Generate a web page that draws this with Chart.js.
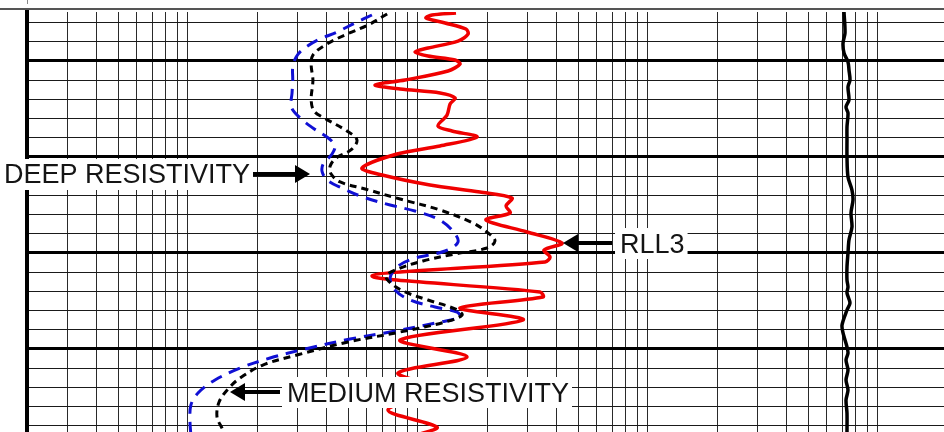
<!DOCTYPE html>
<html>
<head>
<meta charset="utf-8">
<script src="https://cdn.jsdelivr.net/npm/chart.js@4"></script>
<style>
  html, body { margin: 0; padding: 0; background: #fff; }
  #wrap { width: 944px; height: 432px; }
</style>
</head>
<body>
<div id="wrap"><canvas id="logChart"></canvas></div>
<script>
// Resistivity in ohm-m (log track), depth in ft (one grid line = 2 ft)
const gridRes = [
    0.01, 0.015, 0.02, 0.025, 0.03, 0.035, 0.04, 0.045, 0.05,
    0.1, 0.15, 0.2, 0.25, 0.3, 0.35, 0.4, 0.45, 0.5,
    1, 1.5, 2, 2.5, 3, 3.5, 4, 4.5, 5,
    10, 15, 20, 25, 30, 35, 40, 45, 50
];
const gridDepth = [6, 8, 10, 12, 14, 16, 18, 20, 22, 24, 26, 28, 30, 32, 34, 36, 38, 40, 42, 44, 46, 48];

const rll3Depth = [5.00, 5.21, 5.52, 6.04, 6.67, 7.19, 7.92, 8.65, 9.06, 9.48,
    9.90, 10.31, 11.04, 11.98, 12.50, 12.92, 13.33, 13.85, 14.48, 15.63,
    16.77, 17.29, 17.92, 18.85, 19.69, 21.15, 21.88, 22.92, 23.65, 24.27,
    25.10, 25.83, 26.56, 27.81, 28.96, 29.69, 30.42, 30.94, 32.40, 34.06,
    34.58, 35.73, 36.98, 39.06, 40.83, 42.50, 44.27, 46.35, 48.13, 48.86];
const rll3Res = [0.733, 0.577, 0.543, 0.657, 0.810, 0.827, 0.748, 0.554, 0.486, 0.554,
    0.726, 0.763, 0.677, 0.440, 0.326, 0.419, 0.625, 0.726, 0.691, 0.670,
    0.612, 0.704, 0.905, 0.625, 0.406, 0.286, 0.350, 0.565, 0.932, 1.284,
    1.210, 1.259, 0.990, 1.492, 2.119, 1.769, 1.879, 1.787, 0.316, 1.700,
    1.752, 0.763, 1.434, 0.419, 0.819, 0.410, 0.625, 0.371, 0.606, 0.511];

const deepDepth = [5.10, 6.25, 7.29, 8.33, 9.38, 10.42, 11.98, 14.06, 15.21, 15.94,
    17.29, 18.23, 19.27, 20.10, 20.94, 21.77, 22.60, 23.33, 24.38, 25.52,
    26.88, 27.92, 28.75, 29.48, 30.10, 30.83, 31.67, 32.40, 33.23, 34.06,
    34.90, 35.83, 36.46, 37.19, 38.23, 39.27, 40.63, 41.67, 43.02, 44.17,
    45.52, 47.08, 48.23, 49.06];
const deepRes = [0.368, 0.304, 0.241, 0.198, 0.175, 0.172, 0.175, 0.172, 0.177, 0.196,
    0.246, 0.272, 0.256, 0.221, 0.208, 0.210, 0.230, 0.295, 0.419, 0.625,
    0.869, 1.010, 1.083, 1.000, 0.726, 0.527, 0.410, 0.364, 0.386, 0.440,
    0.554, 0.726, 0.779, 0.657, 0.419, 0.249, 0.149, 0.106, 0.0844, 0.0748,
    0.0684, 0.0670, 0.0704, 0.0733];

const medDepth = [5.21, 6.04, 6.98, 7.81, 8.75, 9.58, 10.63, 11.98, 13.33, 14.79,
    15.94, 16.98, 18.02, 18.85, 19.69, 20.73, 21.56, 22.40, 23.23, 24.17,
    25.00, 25.63, 26.46, 27.60, 28.85, 29.79, 30.63, 31.46, 32.60, 33.85,
    34.90, 35.63, 36.15, 36.67, 37.19, 38.23, 38.96, 40.00, 40.94, 41.98,
    43.23, 44.58, 45.83, 47.40, 49.06];
const medRes = [0.316, 0.267, 0.223, 0.184, 0.159, 0.148, 0.143, 0.143, 0.142, 0.141,
    0.154, 0.175, 0.204, 0.218, 0.212, 0.194, 0.192, 0.202, 0.234, 0.289,
    0.379, 0.486, 0.612, 0.704, 0.748, 0.657, 0.472, 0.406, 0.379, 0.398,
    0.463, 0.594, 0.741, 0.763, 0.625, 0.379, 0.254, 0.162, 0.114, 0.0844,
    0.0657, 0.0554, 0.0516, 0.0511, 0.0516];

// black trace on the right of the track
const rightDepth = [4.90, 7.08, 8.13, 9.17, 10.10, 10.94, 11.98, 12.71, 14.06, 14.79,
    15.42, 16.88, 18.23, 20.00, 22.08, 23.44, 24.48, 25.83, 27.29, 28.65,
    30.00, 31.46, 32.81, 33.54, 34.17, 35.21, 35.94, 37.50, 38.33, 39.79,
    40.42, 41.15, 42.19, 43.23, 44.27, 45.31, 46.67, 48.65];
const rightRes = [35.65, 36.01, 35.30, 35.65, 37.10, 37.47, 37.85, 37.10, 37.47, 36.37,
    37.10, 36.73, 36.73, 36.73, 37.10, 38.61, 39.00, 38.23, 38.61, 37.47,
    37.10, 36.73, 36.73, 37.10, 36.73, 37.85, 36.73, 34.95, 35.30, 36.73,
    37.10, 36.37, 37.10, 36.37, 37.10, 36.37, 36.73, 36.73];

// callouts: arrow tip in data space, text placed on `side` of the arrow
const callouts = [
    { text: 'DEEP RESISTIVITY', res: 0.170, depth: 21.77, side: 'left', len: 57, gap: 3 },
    { text: 'RLL3', res: 2.14, depth: 28.96, side: 'right', len: 49, gap: 8 },
    { text: 'MEDIUM RESISTIVITY', res: 0.0763, depth: 44.48, side: 'right', len: 50, gap: 7 }
];

const toPoints = (xs, ys) => xs.map((v, i) => ({ x: v, y: ys[i] }));

const framePlugin = {
    id: 'frame',
    beforeDraw(chart) {
        const { ctx, chartArea } = chart;
        ctx.save();
        ctx.strokeStyle = '#555';
        ctx.lineWidth = 2;
        ctx.beginPath();
        ctx.moveTo(0, chartArea.top - 3);
        ctx.lineTo(chart.width, chartArea.top - 3);
        ctx.stroke();
        ctx.lineWidth = 1;
        ctx.strokeStyle = '#888';
        ctx.beginPath();
        ctx.moveTo(chartArea.left + 0.5, 0);
        ctx.lineTo(chartArea.left + 0.5, 4);
        ctx.stroke();
        ctx.restore();
    }
};

const calloutPlugin = {
    id: 'callouts',
    afterDatasetsDraw(chart) {
        const { ctx } = chart;
        const xs = chart.scales.x;
        const ys = chart.scales.y;
        ctx.save();
        ctx.font = '27px "Liberation Sans", Arial, sans-serif';
        ctx.textBaseline = 'alphabetic';
        callouts.forEach(c => {
            const tipX = xs.getPixelForValue(c.res);
            const tipY = ys.getPixelForValue(c.depth);
            const dir = c.side === 'left' ? -1 : 1;
            const tailX = tipX + dir * c.len;
            const w = ctx.measureText(c.text).width;
            const textX = dir < 0 ? tailX - c.gap - w : tailX + c.gap;

            // white box behind the label
            const boxL = Math.max(0, textX - 5);
            const boxR = dir < 0 ? tailX : textX + w + 3;
            ctx.fillStyle = '#fff';
            ctx.fillRect(boxL, tipY - 15, boxR - boxL, 31);

            ctx.fillStyle = '#141414';
            ctx.fillText(c.text, textX, tipY + 9.5);

            // arrow
            const headBase = tipX + dir * 15;
            ctx.strokeStyle = '#000';
            ctx.lineWidth = 4;
            ctx.beginPath();
            ctx.moveTo(tailX, tipY);
            ctx.lineTo(headBase, tipY);
            ctx.stroke();
            ctx.fillStyle = '#000';
            ctx.beginPath();
            ctx.moveTo(tipX, tipY);
            ctx.lineTo(headBase, tipY - 9);
            ctx.lineTo(headBase, tipY + 9);
            ctx.closePath();
            ctx.fill();
        });
        ctx.restore();
    }
};

new Chart(document.getElementById('logChart'), {
    type: 'scatter',
    data: {
        datasets: [
            {
                label: 'Deep resistivity',
                data: toPoints(deepRes, deepDepth),
                showLine: true,
                borderColor: '#000',
                borderWidth: 3,
                borderDash: [7, 5],
                pointRadius: 0,
                tension: 0.35
            },
            {
                label: 'Medium resistivity',
                data: toPoints(medRes, medDepth),
                showLine: true,
                borderColor: '#1010d4',
                borderWidth: 3,
                borderDash: [12, 8],
                pointRadius: 0,
                tension: 0.35
            },
            {
                label: 'RLL3',
                data: toPoints(rll3Res, rll3Depth),
                showLine: true,
                borderColor: '#f00000',
                borderWidth: 3.5,
                pointRadius: 0,
                tension: 0.3
            },
            {
                label: 'Right trace',
                data: toPoints(rightRes, rightDepth),
                showLine: true,
                borderColor: '#000',
                borderWidth: 3.5,
                pointRadius: 0,
                tension: 0.3
            }
        ]
    },
    options: {
        responsive: true,
        maintainAspectRatio: false,
        animation: false,
        layout: { padding: { left: 27, top: 12, right: 0, bottom: 0 } },
        plugins: {
            legend: { display: false },
            tooltip: { enabled: false }
        },
        scales: {
            x: {
                type: 'logarithmic',
                min: 0.01,
                max: 97,
                afterBuildTicks: scale => { scale.ticks = gridRes.map(v => ({ value: v })); },
                ticks: { display: false },
                grid: { color: '#2a2a2a', lineWidth: 1, drawTicks: false },
                border: { display: false }
            },
            y: {
                type: 'linear',
                reverse: true,
                min: 4.896,
                max: 48.646,
                afterBuildTicks: scale => { scale.ticks = gridDepth.map(v => ({ value: v })); },
                ticks: { display: false },
                grid: {
                    color: ctx => (ctx.tick && ctx.tick.value % 10 === 0 ? '#000' : '#1a1a1a'),
                    lineWidth: ctx => (ctx.tick && ctx.tick.value % 10 === 0 ? 3 : 1),
                    drawTicks: false
                },
                border: { display: true, color: '#000', width: 4 }
            }
        }
    },
    plugins: [framePlugin, calloutPlugin]
});
</script>
</body>
</html>
